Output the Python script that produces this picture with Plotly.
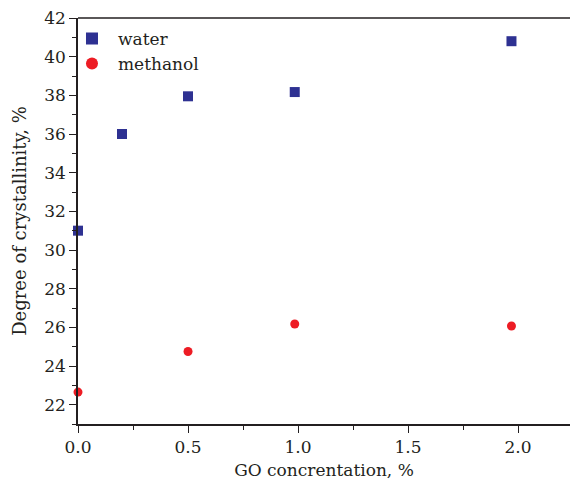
import plotly.graph_objects as go

water_x = [0.0, 0.2, 0.5, 0.985, 1.97]
water_y = [31.0, 36.0, 37.95, 38.17, 40.8]
meth_x = [0.0, 0.5, 0.985, 1.97]
meth_y = [22.65, 24.75, 26.17, 26.07]

font_family = "DejaVu Serif, Liberation Serif, serif"
ink = "#231F20"

fig = go.Figure()
fig.add_trace(go.Scatter(x=water_x, y=water_y, mode="markers", name="water",
                         marker=dict(symbol="square", size=10, color="#2E3192"),
                         cliponaxis=False))
fig.add_trace(go.Scatter(x=meth_x, y=meth_y, mode="markers", name="methanol",
                         marker=dict(symbol="circle", size=9, color="#ED1C24"),
                         cliponaxis=False))

axis_common = dict(showgrid=False, zeroline=False, showline=True, linecolor=ink,
                   linewidth=1.5, ticks="outside", tickcolor=ink, tickwidth=1,
                   ticklen=7, tickfont=dict(family=font_family, size=17, color=ink))

fig.update_layout(
    width=570, height=481,
    margin=dict(l=78, r=0, t=18, b=57),
    paper_bgcolor="white", plot_bgcolor="white",
    font=dict(family=font_family, color=ink),
    showlegend=True,
    legend=dict(x=-0.0244, y=0.993, xanchor="left", yanchor="top",
                bgcolor="rgba(0,0,0,0)", font=dict(family=font_family, size=17, color=ink),
                itemsizing="constant", tracegroupgap=0, itemwidth=42),
    xaxis=dict(range=[0, 2.236], tickvals=[0, 0.5, 1.0, 1.5, 2.0],
               ticktext=["0.0", "0.5", "1.0", "1.5", "2.0"],
               minor=dict(tickvals=[0.25, 0.75, 1.25, 1.75, 2.25], ticks="outside", ticklen=4,
                          tickcolor=ink),
               title=dict(text="GO concrentation, %", font=dict(family=font_family, size=17),
                          standoff=8),
               **axis_common),
    yaxis=dict(range=[21, 42], tickvals=list(range(22, 43, 2)),
               minor=dict(tickvals=list(range(21, 42, 2)), ticks="outside", ticklen=4,
                          tickcolor=ink),
               title=dict(text="Degree of crystallinity, %", font=dict(family=font_family, size=18),
                          standoff=13),
               **axis_common),
)
fig.add_shape(type="line", xref="paper", yref="paper", x0=0, x1=1, y0=1, y1=1,
              line=dict(color=ink, width=1.5))

fig.write_html("out.html",
               config={"displayModeBar": False},
               post_script="document.body.style.margin='0';document.body.style.overflow='hidden';")
